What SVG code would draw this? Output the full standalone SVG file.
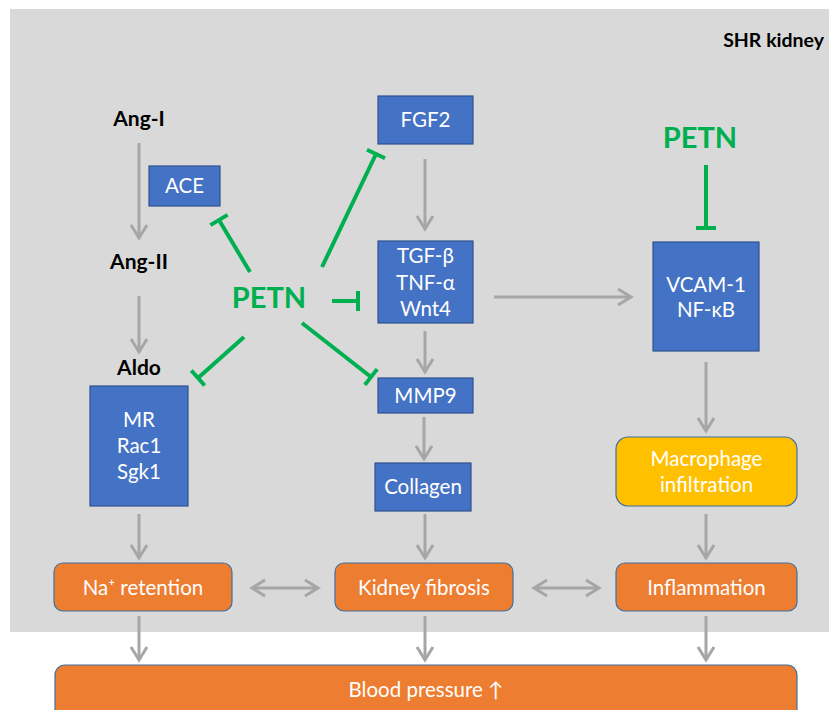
<svg xmlns="http://www.w3.org/2000/svg" width="829" height="710" viewBox="0 0 829 710">
  <defs>
    <style>
      .bg { fill: #d9d9d9; }
      .blue { fill: #4472c4; stroke: #2f528f; stroke-width: 1.2; }
      .orange { fill: #ed7d31; stroke: #41719c; stroke-width: 1.2; }
      .yellow { fill: #ffc000; stroke: #41719c; stroke-width: 1.2; }
      .wt { font-family: Lato, "Open Sans", "Liberation Sans", sans-serif; font-size: 20.5px; fill: #ffffff; text-anchor: middle; }
      .bk { font-family: Lato, "Open Sans", "Liberation Sans", sans-serif; font-size: 21px; font-weight: bold; fill: #000000; text-anchor: middle; }
      .petn { font-family: Lato, "Open Sans", "Liberation Sans", sans-serif; font-size: 29px; font-weight: bold; fill: #00b050; text-anchor: middle; }
      .arr { stroke: #a6a6a6; stroke-width: 3; fill: none; marker-end: url(#head); }
      .dbl { stroke: #a6a6a6; stroke-width: 3; fill: none; marker-end: url(#head); marker-start: url(#head); }
      .inh { stroke: #00b050; stroke-width: 4; fill: none; marker-end: url(#tee); }
    </style>
    <marker id="head" markerUnits="userSpaceOnUse" viewBox="-16 -10 20 20" refX="0" refY="0" markerWidth="20" markerHeight="20" orient="auto-start-reverse">
      <path d="M-13,-8 L0,0 L-13,8" fill="none" stroke="#a6a6a6" stroke-width="3"/>
    </marker>
    <marker id="tee" markerUnits="userSpaceOnUse" viewBox="-4 -12 8 24" refX="0" refY="0" markerWidth="8" markerHeight="24" orient="auto">
      <path d="M0,-10 L0,10" fill="none" stroke="#00b050" stroke-width="4"/>
    </marker>
  </defs>

  <!-- kidney panel -->
  <rect class="bg" x="10" y="9" width="819" height="623"/>
  <text x="824" y="47" class="bk" style="font-size:19.5px;text-anchor:end">SHR kidney</text>

  <!-- connectors -->
  <g id="connectors">
    <line class="arr" x1="139" y1="143" x2="139" y2="238"/>
    <line class="arr" x1="139" y1="296" x2="139" y2="352"/>
    <line class="arr" x1="425" y1="159" x2="425" y2="229"/>
    <line class="arr" x1="425" y1="331" x2="425" y2="372"/>
    <line class="arr" x1="424" y1="417" x2="424" y2="459"/>
    <line class="arr" x1="425" y1="514" x2="425" y2="558"/>
    <line class="arr" x1="139" y1="514" x2="139" y2="558"/>
    <line class="arr" x1="706" y1="362" x2="706" y2="431"/>
    <line class="arr" x1="706" y1="514" x2="706" y2="558"/>
    <line class="arr" x1="494" y1="297" x2="631" y2="297"/>
    <line class="dbl" x1="252" y1="588" x2="318" y2="588"/>
    <line class="dbl" x1="534" y1="588" x2="599" y2="588"/>
    <line class="arr" x1="139" y1="616" x2="139" y2="660"/>
    <line class="arr" x1="425" y1="616" x2="425" y2="660"/>
    <line class="arr" x1="706" y1="616" x2="706" y2="660"/>
    <line class="inh" x1="250" y1="272" x2="219" y2="220"/>
    <line class="inh" x1="322" y1="267" x2="376" y2="154"/>
    <line class="inh" x1="332" y1="301" x2="358" y2="301"/>
    <line class="inh" x1="244" y1="337" x2="198" y2="378"/>
    <line class="inh" x1="302" y1="323" x2="371" y2="377"/>
    <line class="inh" x1="706" y1="165" x2="706" y2="228"/>
  </g>

  <g id="ang1"><text x="139" y="126" class="bk">Ang-I</text></g>
  <g id="ang2"><text x="139" y="269" class="bk">Ang-II</text></g>
  <g id="aldo"><text x="139" y="375" class="bk">Aldo</text></g>

  <g id="petn-left"><text x="269" y="308" class="petn">PETN</text></g>
  <g id="petn-right"><text x="700" y="148" class="petn">PETN</text></g>

  <g id="ace">
    <rect class="blue" x="149" y="166" width="71" height="40"/>
    <text x="184.5" y="193" class="wt">ACE</text>
  </g>

  <g id="mr">
    <rect class="blue" x="90" y="386" width="98" height="120"/>
    <text x="139" y="427" class="wt">MR</text>
    <text x="139" y="453" class="wt">Rac1</text>
    <text x="139" y="479" class="wt">Sgk1</text>
  </g>

  <g id="fgf2">
    <rect class="blue" x="378" y="96" width="95" height="48"/>
    <text x="425.5" y="127" class="wt">FGF2</text>
  </g>

  <g id="tgf">
    <rect class="blue" x="378" y="241" width="95" height="82"/>
    <text x="425.5" y="263" class="wt">TGF-β</text>
    <text x="425.5" y="290" class="wt">TNF-α</text>
    <text x="425.5" y="316" class="wt">Wnt4</text>
  </g>

  <g id="mmp9">
    <rect class="blue" x="378" y="378" width="95" height="35"/>
    <text x="425.5" y="403" class="wt">MMP9</text>
  </g>

  <g id="collagen">
    <rect class="blue" x="375" y="463" width="96" height="48"/>
    <text x="423" y="494" class="wt">Collagen</text>
  </g>

  <g id="vcam">
    <rect class="blue" x="653" y="242" width="106" height="109"/>
    <text x="706" y="292" class="wt">VCAM-1</text>
    <text x="706" y="317" class="wt">NF-κB</text>
  </g>

  <g id="macrophage">
    <rect class="yellow" x="616" y="437" width="181" height="69" rx="12"/>
    <text x="706.5" y="466" class="wt">Macrophage</text>
    <text x="706.5" y="492" class="wt">infiltration</text>
  </g>

  <g id="na-retention">
    <rect class="orange" x="54" y="563" width="178" height="48" rx="9"/>
    <text x="143" y="595" class="wt">Na⁺ retention</text>
  </g>

  <g id="kidney-fibrosis">
    <rect class="orange" x="335" y="563" width="178" height="48" rx="9"/>
    <text x="424" y="595" class="wt">Kidney fibrosis</text>
  </g>

  <g id="inflammation">
    <rect class="orange" x="616" y="563" width="181" height="48" rx="9"/>
    <text x="706.5" y="595" class="wt">Inflammation</text>
  </g>

  <g id="blood-pressure">
    <rect class="orange" x="55" y="665" width="742" height="60" rx="10"/>
    <text x="426" y="697" class="wt">Blood pressure ↑</text>
  </g>
</svg>
